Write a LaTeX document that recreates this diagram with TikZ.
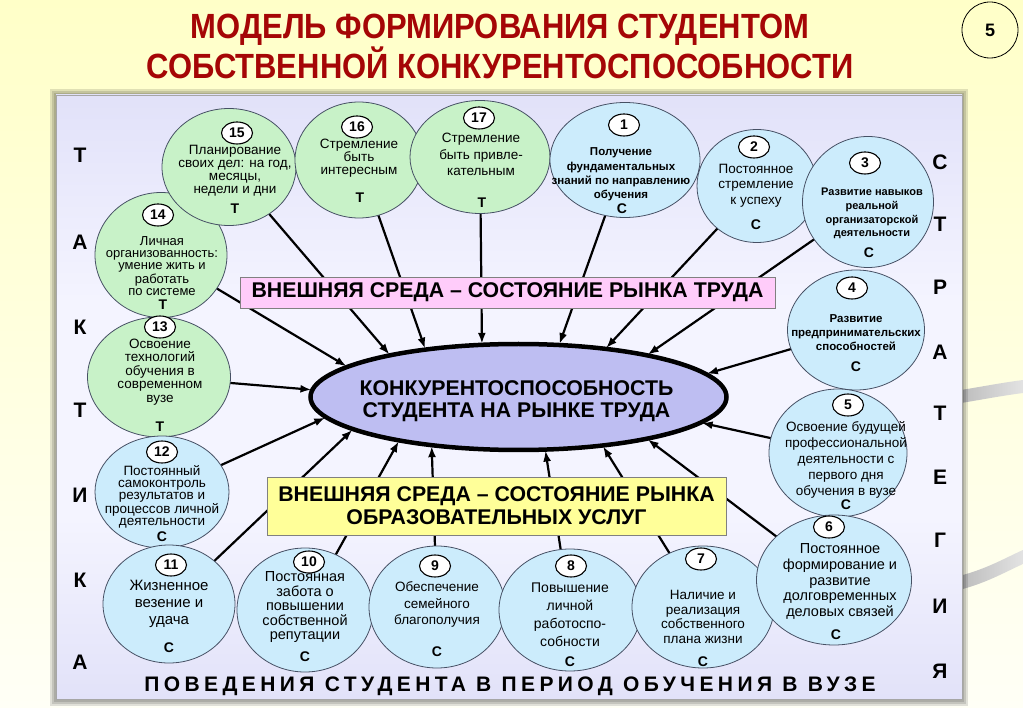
\documentclass[tikz,border=0pt]{standalone}
\usepackage{fontspec}
\setmainfont{Liberation Sans}
\newfontfamily\spaced[LetterSpace=21]{Liberation Sans}
\usepackage{graphicx}
\usetikzlibrary{shapes.geometric,arrows.meta}
\pgfdeclarelayer{back}
\pgfdeclarelayer{mid}
\pgfsetlayers{back,mid,main}
\definecolor{grn}{RGB}{200,242,200}
\definecolor{blu}{RGB}{204,236,252}
\definecolor{bubline}{RGB}{70,80,100}
\definecolor{ellfill}{RGB}{190,190,242}
\definecolor{pinkbox}{RGB}{255,204,250}
\definecolor{yelbox}{RGB}{255,255,153}
\definecolor{ttl}{RGB}{165,6,6}
\definecolor{slideT}{RGB}{255,255,200}
\definecolor{slideB}{RGB}{255,255,246}
\definecolor{pnlT}{RGB}{198,198,240}
\definecolor{pnlM}{RGB}{244,244,255}
\definecolor{pnlB}{RGB}{196,196,238}
\pgfdeclareverticalshading{pnlshade}{100bp}{color(0bp)=(pnlB); color(40bp)=(pnlM); color(58bp)=(pnlM); color(100bp)=(pnlT)}
\begin{document}
\begin{tikzpicture}[x=1pt,y=-1pt,
  bub/.style={ellipse, draw=bubline, line width=0.8pt, inner sep=0pt, outer sep=0pt},
  gbub/.style={bub, fill=grn},
  bbub/.style={bub, fill=blu},
  badge/.style={ellipse, draw=black, line width=1.1pt, fill=white, minimum width=31pt, minimum height=22pt, inner sep=0pt, font=\bfseries\fontsize{14}{14}\selectfont},
  btxt/.style={align=center, inner sep=0pt},
  clet/.style={inner sep=0pt, font=\bfseries\fontsize{14}{14}\selectfont},
  side/.style={inner sep=0pt, font=\bfseries\fontsize{21}{21}\selectfont},
  arr/.style={line width=2.2pt, -{Latex[length=11pt,width=8pt]}, shorten >=1pt},
  big/.style={font=\bfseries\fontsize{21.3}{23}\selectfont, align=center, inner sep=0pt}]
\useasboundingbox (0,0) rectangle (1023,708);

% title
\node[font=\bfseries\fontsize{35}{35}\selectfont, text=ttl, inner sep=0pt] (ttl1) at (500,30) {\scalebox{0.885}[1]{МОДЕЛЬ ФОРМИРОВАНИЯ СТУДЕНТОМ}};
\node[font=\bfseries\fontsize{35}{35}\selectfont, text=ttl, inner sep=0pt] (ttl2) at (500,63) {\scalebox{0.885}[1]{СОБСТВЕННОЙ КОНКУРЕНТОСПОСОБНОСТИ}};
\node[circle, draw=black, line width=0.8pt, minimum size=56pt, inner sep=0pt, font=\bfseries\fontsize{18}{18}\selectfont] (num) at (990,30) {5};

% circles
\node[gbub, minimum width=143pt, minimum height=120pt] (c13) at (159,377) {};
\node[gbub, minimum width=132pt, minimum height=125pt] (c14) at (161,255) {};
\node[gbub, minimum width=134pt, minimum height=117pt] (c15) at (229,167) {};
\node[gbub, minimum width=128pt, minimum height=116pt] (c16) at (359,160) {};
\node[gbub, minimum width=140pt, minimum height=113pt] (c17) at (480,157) {};
\node[bbub, minimum width=150pt, minimum height=115pt] (c1) at (625,160) {};
\node[bbub, minimum width=120pt, minimum height=113pt] (c2) at (757,186) {};
\node[bbub, minimum width=131pt, minimum height=131pt] (c3) at (868,202) {};
\node[bbub, minimum width=137pt, minimum height=120pt] (c4) at (856,330) {};
\node[bbub, minimum width=138pt, minimum height=128pt] (c5) at (838,453) {};
\node[bbub, minimum width=134pt, minimum height=112pt] (c12) at (162,492) {};
\node[bbub, minimum width=132pt, minimum height=118pt] (c11) at (169,604) {};
\node[bbub, minimum width=136pt, minimum height=124pt] (c10) at (305,610) {};
\node[bbub, minimum width=136pt, minimum height=122pt] (c9) at (437,607) {};
\node[bbub, minimum width=142pt, minimum height=122pt] (c8) at (570,610) {};
\node[bbub, minimum width=142pt, minimum height=122pt] (c7) at (703,607) {};
\node[bbub, minimum width=155pt, minimum height=130pt] (c6) at (834,580) {};

% badges
\node[badge] (b1) at (624,125) {1};
\node[badge] (b2) at (754,147) {2};
\node[badge] (b3) at (865,163) {3};
\node[badge] (b4) at (852,288) {4};
\node[badge] (b5) at (848,405) {5};
\node[badge] (b6) at (829,527) {6};
\node[badge] (b7) at (701,559) {7};
\node[badge] (b8) at (571,566) {8};
\node[badge] (b9) at (435,566) {9};
\node[badge] (b10) at (309,562) {10};
\node[badge] (b11) at (171,565) {11};
\node[badge] (b12) at (162,452) {12};
\node[badge] (b13) at (160,327) {13};
\node[badge] (b14) at (158,215) {14};
\node[badge] (b15) at (237,133) {15};
\node[badge] (b16) at (357,127) {16};
\node[badge] (b17) at (479,118) {17};

% texts
\node[btxt, font=\fontsize{13.5}{13}\selectfont] (t15) at (235,170.5) {Планирование\\своих дел: на год,\\месяцы,\\недели и дни};
\node[btxt, font=\fontsize{13.5}{12.5}\selectfont] (t16) at (359,158) {Стремление\\быть\\интересным};
\node[btxt, font=\fontsize{13.5}{16.3}\selectfont] (t17) at (481,154.5) {Стремление\\быть привле-\\кательным};
\node[btxt, font=\bfseries\fontsize{11.5}{14.2}\selectfont] (t1) at (621,174.5) {Получение\\фундаментальных\\знаний по направлению\\обучения};
\node[btxt, font=\fontsize{13.5}{15.5}\selectfont] (t2) at (756,185.5) {Постоянное\\стремление\\к успеху};
\node[btxt, font=\bfseries\fontsize{11}{13.8}\selectfont] (t3) at (872,213.5) {Развитие навыков\\реальной\\организаторской\\деятельности};
\node[btxt, font=\bfseries\fontsize{11.5}{14}\selectfont] (t4) at (856,333) {Развитие\\предпринимательских\\способностей};
\node[btxt, font=\fontsize{13.5}{16}\selectfont] (t5) at (846,460) {Освоение будущей\\профессиональной\\деятельности с\\первого дня\\обучения в вузе};
\node[btxt, font=\fontsize{14.5}{15.8}\selectfont] (t6) at (840,581.5) {Постоянное\\формирование и\\развитие\\долговременных\\деловых связей};
\node[btxt, font=\fontsize{13.5}{14.5}\selectfont] (t7) at (703,617) {Наличие и\\реализация\\собственного\\плана жизни};
\node[btxt, font=\fontsize{14}{18}\selectfont] (t8) at (570,615) {Повышение\\личной\\работоспо-\\собности};
\node[btxt, font=\fontsize{13.5}{16.5}\selectfont] (t9) at (437,604.5) {Обеспечение\\семейного\\благополучия};
\node[btxt, font=\fontsize{14.5}{14.5}\selectfont] (t10) at (305,607.5) {Постоянная\\забота о\\повышении\\собственной\\репутации};
\node[btxt, font=\fontsize{15}{17}\selectfont] (t11) at (169,604) {Жизненное\\везение и\\удача};
\node[btxt, font=\fontsize{13.5}{12}\selectfont] (t12) at (162,497) {Постоянный\\самоконтроль\\результатов и\\процессов личной\\деятельности};
\node[btxt, font=\fontsize{13.5}{13.5}\selectfont] (t13) at (160,372) {Освоение\\технологий\\обучения в\\современном\\вузе};
\node[btxt, font=\fontsize{13}{12}\selectfont] (t14) at (162,266) {Личная\\организованность:\\умение жить и\\работать\\по системе};

% T / C letters
\node[clet] (s15) at (235,209) {Т};
\node[clet] (s16) at (360,198) {Т};
\node[clet] (s17) at (482,203) {Т};
\node[clet] (s1) at (622,209) {С};
\node[clet] (s2) at (756,225) {С};
\node[clet] (s3) at (869,253) {С};
\node[clet] (s4) at (856,367) {С};
\node[clet] (s5) at (846,505) {С};
\node[clet] (s6) at (836,635) {С};
\node[clet] (s7) at (703,662) {С};
\node[clet] (s8) at (570,662) {С};
\node[clet] (s9) at (437,652) {С};
\node[clet] (s10) at (305,657) {С};
\node[clet] (s11) at (169,648) {С};
\node[clet] (s12) at (162,537) {С};
\node[clet] (s13) at (160,427) {Т};
\node[clet] (s14) at (163,305) {Т};

% centre and boxes
\node[ellipse, draw=black, line width=4.5pt, fill=ellfill, minimum width=416pt, minimum height=106pt, inner sep=0pt, outer sep=0pt] (ell) at (518.5,397) {};
\node[big, font=\bfseries\fontsize{21.3}{22}\selectfont] (ellt) at (516.5,401) {КОНКУРЕНТОСПОСОБНОСТЬ\\СТУДЕНТА НА РЫНКЕ ТРУДА};
\node[big, draw=gray, line width=0.8pt, fill=pinkbox, minimum width=535pt, minimum height=31pt] (pink) at (507.5,292.5) {ВНЕШНЯЯ СРЕДА – СОСТОЯНИЕ РЫНКА ТРУДА};
\node[big, draw=gray, line width=0.8pt, fill=yelbox, minimum width=459pt, minimum height=58pt] (yel) at (496.5,506) {ВНЕШНЯЯ СРЕДА – СОСТОЯНИЕ РЫНКА\\ОБРАЗОВАТЕЛЬНЫХ УСЛУГ};

% side letters
\foreach \l/\y [count=\i] in {Т/155,А/242,К/327,Т/410,И/495,К/580,А/662}
  \node[side] (L\i) at (80,\y) {\l};
\foreach \l/\y [count=\i] in {С/162,Т/224,Р/287,А/352,Т/413,Е/477,Г/540,И/606,Я/671}
  \node[side] (R\i) at (940,\y) {\l};
\node[inner sep=0pt, font=\spaced\bfseries\fontsize{21}{21}\selectfont] (bottom) at (510,686) {ПОВЕДЕНИЯ СТУДЕНТА В ПЕРИОД ОБУЧЕНИЯ В ВУЗЕ};

% arrows
\begin{pgfonlayer}{mid}
\foreach \n/\a in {15/162.9,16/153.1,17/125,1/52.6,2/29.2,3/18.8,4/7.7,5/352.7,6/342,7/330.4,8/297.4,9/209.7,10/200.3,11/191.5,12/186,13/178,14/170.5}
  \draw[arr] (c\n) -- (ell.\a);
\end{pgfonlayer}

% background
\begin{pgfonlayer}{back}
\shade[top color=slideT, bottom color=slideB] (0,0) rectangle (1023,708);
\shade[left color=gray!55, right color=gray!22] (955,391) .. controls (980,387) and (1000,383) .. (1023,380) -- (1023,393) .. controls (1000,396) and (980,400) .. (955,404) -- cycle;
\shade[left color=gray!55, right color=gray!22] (955,577) .. controls (985,570) and (1005,558) .. (1023,550) -- (1023,564) .. controls (1005,572) and (985,584) .. (955,591) -- cycle;
\fill[black, opacity=0.12] (50,89) rectangle (968,706);
\fill[black, opacity=0.12] (52,91) rectangle (966,704);
\fill[black, opacity=0.12] (54,93) rectangle (964,702);
\shade[shading=pnlshade, draw=gray!70, line width=0.8pt] (56,95) rectangle (962,699);
\end{pgfonlayer}
\end{tikzpicture}
\end{document}
